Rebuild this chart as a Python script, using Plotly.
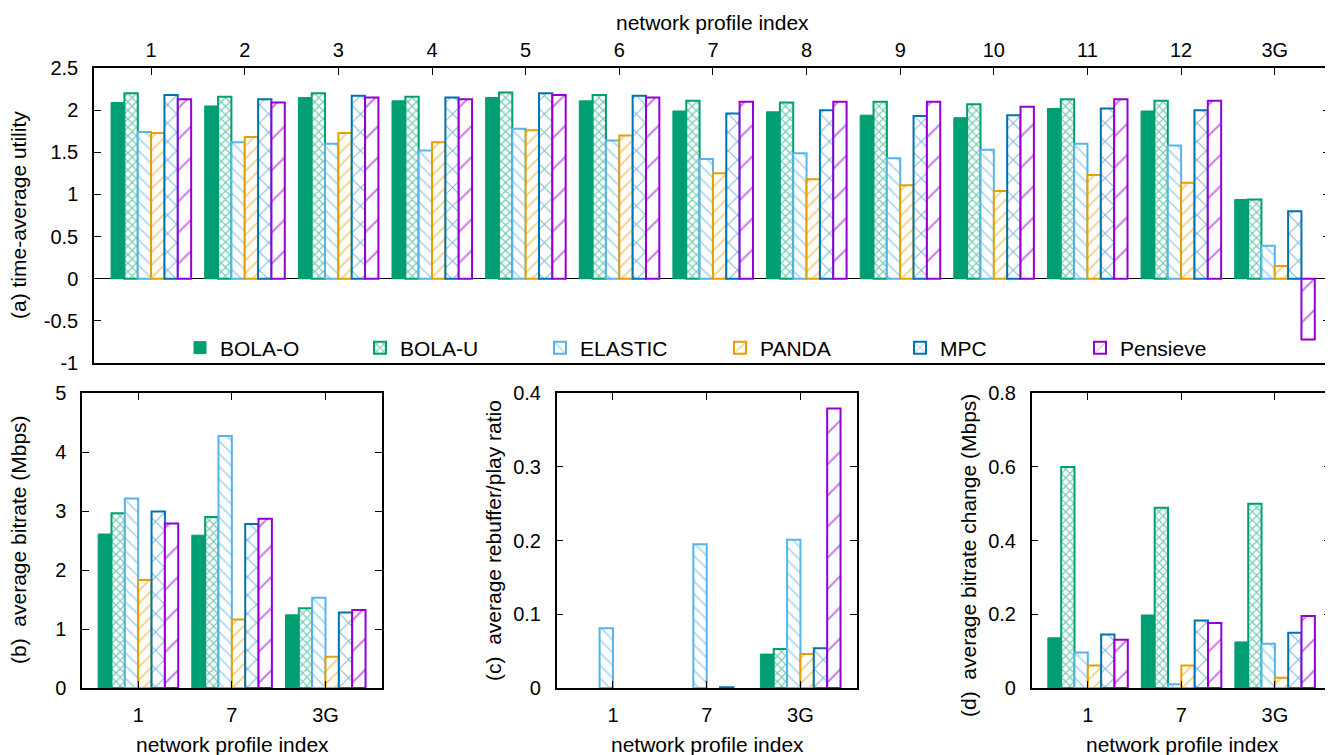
import plotly.graph_objects as go

# ---------------- data ----------------
series = ["BOLA-O", "BOLA-U", "ELASTIC", "PANDA", "MPC", "Pensieve"]

profiles_a = ["1", "2", "3", "4", "5", "6", "7", "8", "9", "10", "11", "12", "3G"]
util_bola_o = [2.09, 2.05, 2.15, 2.11, 2.15, 2.11, 1.99, 1.98, 1.94, 1.91, 2.02, 1.99, 0.94]
util_bola_u = [2.20, 2.16, 2.20, 2.16, 2.21, 2.18, 2.11, 2.09, 2.10, 2.07, 2.13, 2.11, 0.94]
util_elastic = [1.74, 1.62, 1.60, 1.52, 1.78, 1.64, 1.42, 1.49, 1.43, 1.53, 1.60, 1.58, 0.39]
util_panda = [1.73, 1.68, 1.73, 1.62, 1.76, 1.70, 1.25, 1.18, 1.11, 1.04, 1.23, 1.14, 0.15]
util_mpc = [2.18, 2.13, 2.17, 2.15, 2.20, 2.17, 1.96, 2.00, 1.93, 1.94, 2.02, 2.00, 0.80]
util_pensieve = [2.13, 2.09, 2.15, 2.13, 2.18, 2.15, 2.10, 2.10, 2.10, 2.04, 2.13, 2.11, -0.72]

profiles_bcd = ["1", "7", "3G"]
bitrate_bola_o = [2.61, 2.59, 1.24]
bitrate_bola_u = [2.96, 2.90, 1.35]
bitrate_elastic = [3.21, 4.27, 1.53]
bitrate_panda = [1.83, 1.16, 0.53]
bitrate_mpc = [2.99, 2.78, 1.28]
bitrate_pensieve = [2.79, 2.87, 1.32]

rebuf_bola_o = [0.0, 0.0, 0.046]
rebuf_bola_u = [0.0, 0.0, 0.053]
rebuf_elastic = [0.081, 0.195, 0.201]
rebuf_panda = [0.0, 0.0, 0.046]
rebuf_mpc = [0.0, 0.001, 0.054]
rebuf_pensieve = [0.0, 0.0, 0.379]

change_bola_o = [0.136, 0.198, 0.125]
change_bola_u = [0.599, 0.489, 0.500]
change_elastic = [0.096, 0.010, 0.120]
change_panda = [0.061, 0.061, 0.028]
change_mpc = [0.145, 0.183, 0.150]
change_pensieve = [0.131, 0.176, 0.195]

util_ticks = [-1, -0.5, 0, 0.5, 1, 1.5, 2, 2.5]
util_ticklabels = ["-1", "-0.5", "0", "0.5", "1", "1.5", "2", "2.5"]
bitrate_ticks = [0, 1, 2, 3, 4, 5]
rebuf_ticks = [0, 0.1, 0.2, 0.3, 0.4]
rebuf_ticklabels = ["0", "0.1", "0.2", "0.3", "0.4"]
change_ticks = [0, 0.2, 0.4, 0.6, 0.8]
change_ticklabels = ["0", "0.2", "0.4", "0.6", "0.8"]

# ---------------- styles ----------------
colors = ["#009E73", "#009E73", "#56B4E9", "#E69F00", "#0072B2", "#9400D3"]
patterns = [
    dict(shape=""),
    dict(shape="x", size=6, solidity=0.4),
    dict(shape="\\", size=9, solidity=0.2),
    dict(shape="/", size=9, solidity=0.2),
    dict(shape="x", size=13, solidity=0.16),
    dict(shape="/", size=22, solidity=0.1),
]

FONT = "Liberation Sans, Arial, Helvetica, sans-serif"
FS = 20
FST = 21

panel_values = [
    ([util_bola_o, util_bola_u, util_elastic, util_panda, util_mpc, util_pensieve], profiles_a, "x", "y"),
    ([bitrate_bola_o, bitrate_bola_u, bitrate_elastic, bitrate_panda, bitrate_mpc, bitrate_pensieve], profiles_bcd, "x2", "y2"),
    ([rebuf_bola_o, rebuf_bola_u, rebuf_elastic, rebuf_panda, rebuf_mpc, rebuf_pensieve], profiles_bcd, "x3", "y3"),
    ([change_bola_o, change_bola_u, change_elastic, change_panda, change_mpc, change_pensieve], profiles_bcd, "x4", "y4"),
]

fig = go.Figure()
for pi, (vals, cats, xa, ya) in enumerate(panel_values):
    for si, name in enumerate(series):
        col = colors[si]
        v = vals[si]
        if si == 0:
            lw = [0 if val == 0 else 1 for val in v]
            marker = dict(color=col, line=dict(color=col, width=lw))
        else:
            lw = [0 if val == 0 else 2 for val in v]
            pat = dict(patterns[si])
            pat.update(fgcolor=col, bgcolor="white", fillmode="overlay")
            marker = dict(color="white", pattern=pat, line=dict(color=col, width=lw))
        fig.add_trace(go.Bar(
            x=cats, y=v, name=name, marker=marker,
            xaxis=xa, yaxis=ya, showlegend=(pi == 0), legendgroup=name,
            offsetgroup=str(si),
        ))

# page body has an 8px margin: the figure is placed at (8, 8)
OFF = 8
W, H = 1333 - OFF, 755 - OFF
def px_x(v):
    return (v - OFF) / W
def px_y(v):
    return 1 - (v - OFF) / H

axis_common = dict(
    showline=True, linecolor="black", linewidth=1.5, mirror="ticks",
    ticks="inside", ticklen=7, tickwidth=1.2, tickcolor="black",
    showgrid=False, zeroline=False, automargin=False,
    tickfont=dict(family=FONT, size=FS, color="black"),
)

top_dom_y = [px_y(363), px_y(68)]
bot_dom_y = [px_y(688), px_y(393)]

fig.update_layout(
    width=W, height=H,
    margin=dict(l=0, r=0, t=0, b=0, autoexpand=False),
    paper_bgcolor="white", plot_bgcolor="white",
    barmode="group", bargap=0.145, bargroupgap=0,
    font=dict(family=FONT, size=FS, color="black"),
    showlegend=True,
    legend=dict(
        orientation="h", x=px_x(180), y=px_y(348), xanchor="left", yanchor="middle",
        bgcolor="rgba(0,0,0,0)", font=dict(family=FONT, size=FST, color="black"),
        entrywidth=135, entrywidthmode="pixels", traceorder="normal",
    ),
    xaxis=dict(axis_common, domain=[px_x(94), px_x(1330)], type="category",
               range=[-0.61, 12.59], side="top", mirror=True, anchor="y",
               ticklabelstandoff=1),
    yaxis=dict(axis_common, domain=top_dom_y, range=[-1, 2.5], anchor="x",
               tickvals=util_ticks, ticktext=util_ticklabels,
               zeroline=True, zerolinecolor="black", zerolinewidth=1.2,
               ticklabelstandoff=10),
    xaxis2=dict(axis_common, domain=[px_x(82), px_x(381.7)], type="category",
                range=[-0.6, 2.6], anchor="y2", ticklabelstandoff=8),
    yaxis2=dict(axis_common, domain=bot_dom_y, range=[0, 5], anchor="x2",
                tickvals=bitrate_ticks, ticklabelstandoff=10),
    xaxis3=dict(axis_common, domain=[px_x(556.7), px_x(856.7)], type="category",
                range=[-0.6, 2.6], anchor="y3", ticklabelstandoff=8),
    yaxis3=dict(axis_common, domain=bot_dom_y, range=[0, 0.4], anchor="x3",
                tickvals=rebuf_ticks, ticktext=rebuf_ticklabels, ticklabelstandoff=10),
    xaxis4=dict(axis_common, domain=[px_x(1031.7), px_x(1331)], type="category",
                range=[-0.6, 2.6], anchor="y4", ticklabelstandoff=8),
    yaxis4=dict(axis_common, domain=bot_dom_y, range=[0, 0.8], anchor="x4",
                tickvals=change_ticks, ticktext=change_ticklabels, ticklabelstandoff=10),
)

def ann(text, x, y, angle=0, yanchor="middle"):
    fig.add_annotation(text=text, x=px_x(x), y=px_y(y), xref="paper", yref="paper",
                       showarrow=False, textangle=angle, xanchor="center", yanchor=yanchor,
                       font=dict(family=FONT, size=FST, color="black"))

ann("network profile index", 712, 8.5, yanchor="top")
ann("(a) time-average utility", 18, 215, -90)
ann("network profile index", 232, 744)
ann("network profile index", 707, 744)
ann("network profile index", 1182, 744)
ann("(b)  average bitrate (Mbps)", 18, 540, -90)
ann("(c)  average rebuffer/play ratio", 493, 540, -90)
ann("(d)  average bitrate change (Mbps)", 968, 555, -90)

fig.write_html("out.html")
